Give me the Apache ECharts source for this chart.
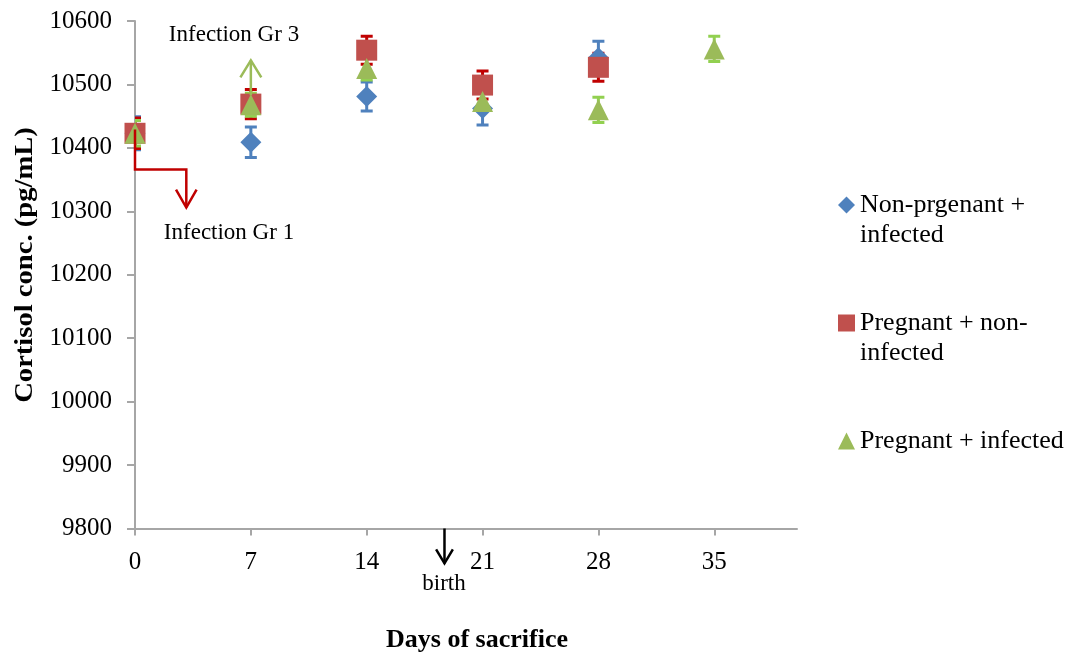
<!DOCTYPE html>
<html>
<head>
<meta charset="utf-8">
<script src="https://cdn.jsdelivr.net/npm/echarts@6/dist/echarts.min.js"></script>
<style>
  html, body { margin: 0; padding: 0; background: #fff; }
  #chart { width: 1073px; height: 657px; }
</style>
</head>
<body>
<div id="chart"></div>
<script>
// Sampling days (x axis ticks)
const xTicks = [0, 7, 14, 21, 28, 35];

// Cortisol means (pg/mL) and error half-widths per group
const seriesNames = ['Non-prgenant + infected', 'Pregnant + non-infected', 'Pregnant + infected'];
const npInfDays = [0, 7, 14, 21, 28];
const npInfected = [10423, 10409, 10481, 10462, 10542];
const npInfectedErr = [26, 24, 23, 26, 26];

const pgNonDays = [0, 7, 14, 21, 28];
const pgNonInfected = [10423, 10469, 10554, 10499, 10527];
const pgNonInfectedErr = [24, 23, 22, 22, 22];

const pgInfDays = [0, 7, 14, 21, 28, 35];
const pgInfected = [10423, 10468, 10525, 10473, 10460, 10556];
const pgInfectedErr = [20, 18, 18, 14, 20, 20];

// Annotation arrows, in data units (day, pg/mL)
const gr1Arrow = [[0, 10429], [0, 10366], [3.1, 10366], [3.1, 10306]];
const gr3Arrow = [[7, 10483], [7, 10538]];
const birthArrow = [[18.7, 9800], [18.7, 9745]];

const FONT = '"Liberation Serif", "Times New Roman", serif';

function pairs(days, vals) { return days.map((d, i) => [d, vals[i]]); }
function errRows(days, vals, errs) { return days.map((d, i) => [d, vals[i] - errs[i], vals[i] + errs[i]]); }

// Vertical error bar with flat caps
function errorBarRenderer(color) {
  return function (params, api) {
    const x = api.value(0);
    const lo = api.coord([x, api.value(1)]);
    const hi = api.coord([x, api.value(2)]);
    const half = 6;
    const st = { stroke: color, lineWidth: 3 };
    return {
      type: 'group',
      children: [
        { type: 'line', shape: { x1: lo[0], y1: lo[1], x2: hi[0], y2: hi[1] }, style: st },
        { type: 'line', shape: { x1: lo[0] - half, y1: lo[1], x2: lo[0] + half, y2: lo[1] }, style: st },
        { type: 'line', shape: { x1: hi[0] - half, y1: hi[1], x2: hi[0] + half, y2: hi[1] }, style: st }
      ]
    };
  };
}

// Polyline with an open arrowhead at its last point
function arrowRenderer(path, color, headLen, headAngle) {
  return function (params, api) {
    if (params.dataIndex !== 0) return null;
    const pts = path.map(p => api.coord(p));
    const n = pts.length;
    const tip = pts[n - 1], prev = pts[n - 2];
    const ang = Math.atan2(tip[1] - prev[1], tip[0] - prev[0]);
    const a1 = ang + Math.PI - headAngle, a2 = ang + Math.PI + headAngle;
    const head = [
      [tip[0] + headLen * Math.cos(a1), tip[1] + headLen * Math.sin(a1)],
      tip,
      [tip[0] + headLen * Math.cos(a2), tip[1] + headLen * Math.sin(a2)]
    ];
    const st = { stroke: color, lineWidth: 2.5, fill: null, lineJoin: 'miter' };
    return {
      type: 'group',
      children: [
        { type: 'polyline', shape: { points: pts }, style: st },
        { type: 'polyline', shape: { points: head }, style: st }
      ]
    };
  };
}

const legendText = {
  'Non-prgenant + infected': '\nNon-prgenant +\ninfected',
  'Pregnant + non-infected': '\nPregnant + non-\ninfected',
  'Pregnant + infected': '\nPregnant + infected\n'
};

const chart = echarts.init(document.getElementById('chart'));
chart.setOption({
  animation: false,
  backgroundColor: '#fff',
  grid: { left: 135, right: 276, top: 21, bottom: 128.5 },
  xAxis: {
    type: 'value', min: 0, max: 40, interval: 7,
    axisLine: { lineStyle: { color: '#A6A6A6', width: 2 } },
    axisTick: { show: true, length: 7, customValues: xTicks, lineStyle: { color: '#A6A6A6', width: 2 } },
    axisLabel: { customValues: xTicks, margin: 21, color: '#000', fontFamily: FONT, fontSize: 25 },
    splitLine: { show: false }
  },
  yAxis: {
    type: 'value', min: 9800, max: 10600, interval: 100,
    axisLine: { show: true, lineStyle: { color: '#A6A6A6', width: 2 } },
    axisTick: { show: true, length: 8, lineStyle: { color: '#A6A6A6', width: 2 } },
    axisLabel: { margin: 23, color: '#000', fontFamily: FONT, fontSize: 25, formatter: v => String(v) },
    splitLine: { show: false }
  },
  legend: {
    orient: 'vertical', left: 838, top: 160, padding: 0,
    itemWidth: 17, itemHeight: 17, itemGap: 28,
    data: seriesNames,
    formatter: name => legendText[name],
    textStyle: { color: '#000', fontFamily: FONT, fontSize: 26, lineHeight: 30 }
  },
  series: [
    // error bars sit beneath every marker
    { type: 'custom', z: 2, clip: true, renderItem: errorBarRenderer('#4F81BD'),
      encode: { x: 0, y: [1, 2] }, data: errRows(npInfDays, npInfected, npInfectedErr) },
    { type: 'custom', z: 2, clip: true, renderItem: errorBarRenderer('#C00000'),
      encode: { x: 0, y: [1, 2] }, data: errRows(pgNonDays, pgNonInfected, pgNonInfectedErr) },
    { type: 'custom', z: 2, clip: true, renderItem: errorBarRenderer('#92D050'),
      encode: { x: 0, y: [1, 2] }, data: errRows(pgInfDays, pgInfected, pgInfectedErr) },
    { type: 'scatter', name: seriesNames[0], z: 3, symbol: 'diamond', symbolSize: 21,
      itemStyle: { color: '#4F81BD', opacity: 1 }, data: pairs(npInfDays, npInfected) },
    { type: 'scatter', name: seriesNames[1], z: 3, symbol: 'rect', symbolSize: 21,
      itemStyle: { color: '#C0504D', opacity: 1 }, data: pairs(pgNonDays, pgNonInfected) },
    { type: 'scatter', name: seriesNames[2], z: 3, symbol: 'triangle', symbolSize: 21,
      itemStyle: { color: '#9BBB59', opacity: 1 }, data: pairs(pgInfDays, pgInfected) },
    { type: 'custom', z: 10, clip: false, silent: true,
      renderItem: arrowRenderer(gr1Arrow, '#C00000', 20.7, 0.52), data: [gr1Arrow[0]] },
    { type: 'custom', z: 10, clip: false, silent: true,
      renderItem: arrowRenderer(gr3Arrow, '#9BBB59', 20, 0.55), data: [gr3Arrow[0]] },
    { type: 'custom', z: 10, clip: false, silent: true,
      renderItem: arrowRenderer(birthArrow, '#000000', 16.3, 0.54), data: [birthArrow[0]] }
  ],
  graphic: [
    { type: 'text', x: 234, y: 35, style: { text: 'Infection Gr 3', fill: '#000', font: '23px ' + FONT, align: 'center', verticalAlign: 'middle' } },
    { type: 'text', x: 229, y: 233, style: { text: 'Infection Gr 1', fill: '#000', font: '23px ' + FONT, align: 'center', verticalAlign: 'middle' } },
    { type: 'text', x: 444, y: 584, style: { text: 'birth', fill: '#000', font: '23px ' + FONT, align: 'center', verticalAlign: 'middle' } },
    { type: 'text', x: 477, y: 640, style: { text: 'Days of sacrifice', fill: '#000', font: 'bold 26px ' + FONT, align: 'center', verticalAlign: 'middle' } },
    { type: 'text', x: 25, y: 265, rotation: Math.PI / 2, scaleX: 1.1, style: { text: 'Cortisol conc. (pg/mL)', fill: '#000', font: 'bold 26px ' + FONT, align: 'center', verticalAlign: 'middle' } }
  ]
});
</script>
</body>
</html>
